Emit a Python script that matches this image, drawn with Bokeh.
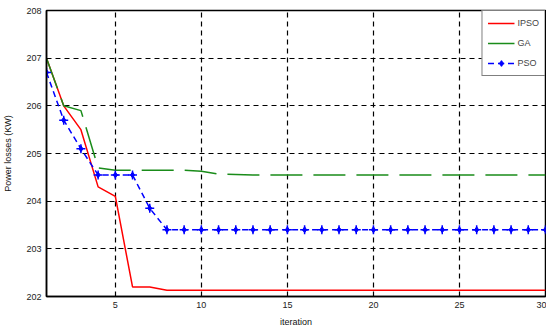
from bokeh.plotting import figure
from bokeh.models import Range1d, FixedTicker, Legend, LegendItem
from bokeh.embed import file_html
from bokeh.resources import INLINE

iterations = list(range(1, 31))
ipso = [207.0, 206.0, 205.5, 204.3, 204.1, 202.2, 202.2, 202.13, 202.13, 202.13,
        202.13, 202.13, 202.13, 202.13, 202.13, 202.13, 202.13, 202.13, 202.13, 202.13,
        202.13, 202.13, 202.13, 202.13, 202.13, 202.13, 202.13, 202.13, 202.13, 202.13]
ga = [207.0, 206.0, 205.9, 204.7, 204.65, 204.65, 204.65, 204.65, 204.65, 204.63,
      204.57, 204.56, 204.55, 204.55, 204.55, 204.55, 204.55, 204.55, 204.55, 204.55,
      204.55, 204.55, 204.55, 204.55, 204.55, 204.55, 204.55, 204.55, 204.55, 204.55]
pso = [206.7, 205.7, 205.1, 204.55, 204.55, 204.55, 203.85, 203.4, 203.4, 203.4,
       203.4, 203.4, 203.4, 203.4, 203.4, 203.4, 203.4, 203.4, 203.4, 203.4,
       203.4, 203.4, 203.4, 203.4, 203.4, 203.4, 203.4, 203.4, 203.4, 203.4]
x_ticks = [5, 10, 15, 20, 25, 30]
y_ticks = [202, 203, 204, 205, 206, 207, 208]

FONT = "Liberation Sans"

p = figure(width=546, height=333, output_backend="svg", toolbar_location=None,
           x_range=Range1d(1, 30), y_range=Range1d(202, 208),
           min_border_left=43, min_border_right=1, min_border_top=10, min_border_bottom=37)
p.outline_line_color = "black"
p.outline_line_width = 1.5

for ax in (p.xaxis[0], p.yaxis[0]):
    ax.major_label_text_font = FONT
    ax.major_label_text_font_size = "9px"
    ax.major_label_text_color = "#222222"
    ax.axis_label_text_font = FONT
    ax.axis_label_text_font_size = "9px"
    ax.axis_label_text_font_style = "normal"
    ax.axis_label_text_color = "#111111"
    ax.major_tick_in = 4
    ax.major_tick_out = 0
    ax.minor_tick_line_color = None
    ax.axis_line_color = "black"
    ax.axis_line_width = 1.5
    ax.major_tick_line_color = "black"

p.xaxis.major_label_standoff = 5
p.xaxis.axis_label_standoff = 6
p.yaxis.major_label_standoff = 5
p.yaxis.axis_label_standoff = 10

p.xaxis.ticker = FixedTicker(ticks=x_ticks)
p.yaxis.ticker = FixedTicker(ticks=y_ticks)
p.xaxis.axis_label = "iteration"
p.yaxis.axis_label = "Power losses (KW)"

p.xgrid.ticker = FixedTicker(ticks=x_ticks)
p.ygrid.ticker = FixedTicker(ticks=y_ticks)
for g in (p.xgrid[0], p.ygrid[0]):
    g.grid_line_color = "black"
    g.grid_line_dash = "5 4"
    g.grid_line_width = 1.2

r_ipso = p.line(iterations, ipso, line_color="#ff0000", line_width=1.5)
r_ga = p.line(iterations, ga, line_color="#1a8c1a", line_width=1.5, line_dash="32 11")
r_pso = p.line(iterations, pso, line_color="#0000ff", line_width=1.5, line_dash="6 4")
r_pso_c = p.scatter(iterations, pso, marker="cross", size=9, line_color="#0000ff",
                    line_width=1.5)
r_pso_d = p.scatter(iterations, pso, marker="diamond", size=6, line_color="#0000ff",
                    fill_color="#0000ff", line_width=1)

legend = Legend(items=[
    LegendItem(label="IPSO", renderers=[r_ipso]),
    LegendItem(label="GA", renderers=[r_ga]),
    LegendItem(label="PSO", renderers=[r_pso, r_pso_c, r_pso_d]),
], location="top_right")
legend.label_text_font = FONT
legend.label_text_font_size = "9px"
legend.label_height = 14
legend.glyph_height = 14
legend.glyph_width = 27
legend.label_standoff = 3
legend.spacing = 6
legend.padding = 5
legend.margin = 0
legend.border_line_color = "black"
legend.border_line_width = 1.5
legend.background_fill_alpha = 1
p.add_layout(legend)

open("out.html", "w").write(file_html(p, INLINE))
